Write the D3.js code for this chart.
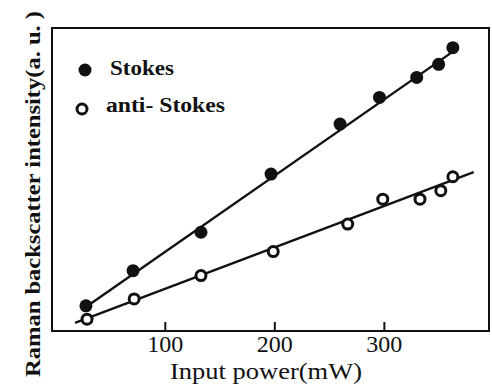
<!DOCTYPE html>
<html>
<head>
<meta charset="utf-8">
<script src="https://cdn.jsdelivr.net/npm/d3@7"></script>
<style>
  body { margin: 0; background: #fff; }
  svg text { font-family: "Liberation Serif", "DejaVu Serif", serif; fill: #111; }
</style>
</head>
<body>
<div id="chart"></div>
<script>
// input power (mW) and intensity (a.u., 0-100 over the plot height)
const stokesX = [28, 71, 133, 197, 260, 296, 330, 350, 363];
const stokesY = [8.3, 19.9, 32.6, 51.8, 68.3, 77.1, 83.7, 88.0, 93.5];
const antiX = [29, 72, 133, 199, 267, 299, 333, 352, 363];
const antiY = [3.9, 10.6, 18.3, 26.2, 35.3, 43.5, 43.5, 46.3, 50.9];
// fitted straight lines (end points)
const stokesFitX = [24, 365];
const stokesFitY = [6.9, 92.7];
const antiFitX = [18, 382];
const antiFitY = [2.7, 52.4];
const xTicks = [100, 200, 300];

const width = 492;
const height = 385;

const svg = d3.select('#chart')
  .append('svg')
  .attr('width', width)
  .attr('height', height);

const x = d3.scaleLinear().domain([-3, 396]).range([52, 489]);
const y = d3.scaleLinear().domain([0, 100]).range([331, 28]);

// frame
svg.append('rect')
  .attr('x', x.range()[0])
  .attr('y', y.range()[1])
  .attr('width', x.range()[1] - x.range()[0])
  .attr('height', y.range()[0] - y.range()[1])
  .attr('fill', 'none')
  .attr('stroke', '#111')
  .attr('stroke-width', 2);

const xAxis = svg.append('g')
  .attr('transform', `translate(0,${y.range()[0]})`)
  .call(d3.axisBottom(x).tickValues(xTicks).tickSizeInner(-9).tickSizeOuter(0).tickPadding(4));
xAxis.select('.domain').remove();
xAxis.selectAll('.tick line').attr('stroke', '#111').attr('stroke-width', 2);
xAxis.selectAll('.tick text')
  .style('font-family', '"Liberation Serif", serif')
  .style('font-size', '24px')
  .attr('fill', '#111');

svg.append('text')
  .attr('x', 266)
  .attr('y', 379)
  .attr('text-anchor', 'middle')
  .style('font-size', '23px')
  .attr('textLength', 192)
  .attr('lengthAdjust', 'spacingAndGlyphs')
  .text('Input power(mW)');

svg.append('text')
  .attr('transform', 'translate(40,194) rotate(-90)')
  .attr('text-anchor', 'middle')
  .style('font-size', '21px')
  .style('font-weight', 'bold')
  .attr('textLength', 366)
  .attr('lengthAdjust', 'spacingAndGlyphs')
  .text('Raman backscatter intensity(a. u. )');

// fit lines
const line = d3.line().x(d => x(d[0])).y(d => y(d[1]));
svg.append('path')
  .attr('d', line(d3.zip(stokesFitX, stokesFitY)))
  .attr('fill', 'none').attr('stroke', '#111').attr('stroke-width', 2.4);
svg.append('path')
  .attr('d', line(d3.zip(antiFitX, antiFitY)))
  .attr('fill', 'none').attr('stroke', '#111').attr('stroke-width', 2.4);

// points
svg.selectAll('.stokes')
  .data(d3.zip(stokesX, stokesY))
  .enter().append('circle')
  .attr('cx', d => x(d[0])).attr('cy', d => y(d[1]))
  .attr('r', 6.5).attr('fill', '#111');

svg.selectAll('.anti')
  .data(d3.zip(antiX, antiY))
  .enter().append('circle')
  .attr('cx', d => x(d[0])).attr('cy', d => y(d[1]))
  .attr('r', 5).attr('fill', '#fff').attr('stroke', '#111').attr('stroke-width', 3);

// legend
svg.append('circle').attr('cx', 85).attr('cy', 70).attr('r', 6.5).attr('fill', '#111');
svg.append('text').attr('x', 110).attr('y', 75)
  .style('font-size', '20px').style('font-weight', 'bold')
  .attr('textLength', 64).attr('lengthAdjust', 'spacingAndGlyphs').text('Stokes');
svg.append('circle').attr('cx', 82).attr('cy', 109).attr('r', 5)
  .attr('fill', '#fff').attr('stroke', '#111').attr('stroke-width', 3);
svg.append('text').attr('x', 106).attr('y', 112)
  .style('font-size', '20px').style('font-weight', 'bold')
  .attr('textLength', 119).attr('lengthAdjust', 'spacingAndGlyphs').text('anti- Stokes');
</script>
</body>
</html>
